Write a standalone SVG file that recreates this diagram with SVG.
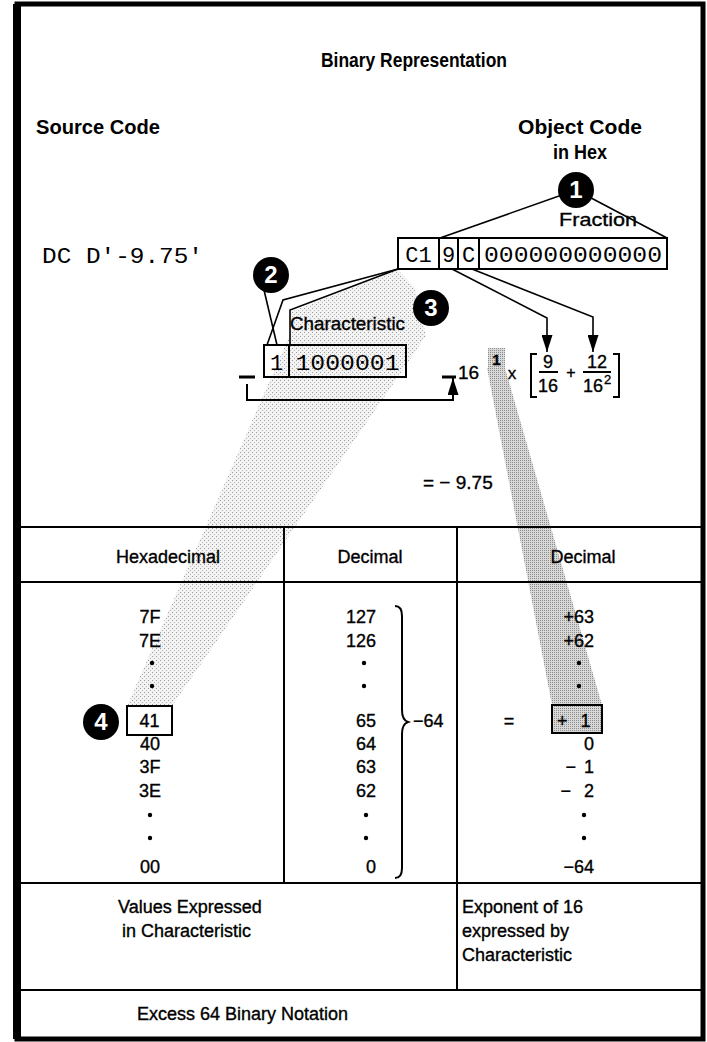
<svg xmlns="http://www.w3.org/2000/svg" width="707" height="1042" viewBox="0 0 707 1042">
<defs>
<pattern id="stip1" width="4" height="4" patternUnits="userSpaceOnUse">
<rect width="4" height="4" fill="#f3f3f3"/>
<rect x="0" y="0" width="1" height="1" fill="#9a9a9a"/>
<rect x="2" y="2" width="1" height="1" fill="#b4b4b4"/>
</pattern>
<pattern id="stip2" width="2" height="2" patternUnits="userSpaceOnUse">
<rect width="2" height="2" fill="#d8d8d8"/>
<rect width="1" height="1" fill="#8c8c8c"/>
</pattern>
<marker id="ah" viewBox="0 0 17 11" refX="17" refY="5.5" markerWidth="17" markerHeight="11" orient="auto" markerUnits="userSpaceOnUse">
<path d="M0,0 L17,5.5 L0,11 Z" fill="#000"/>
</marker>
<style>
.t{font-family:"Liberation Sans",Arial,sans-serif;fill:#000;font-size:18px;stroke:#000;stroke-width:0.35px}
.h{font-family:"Liberation Sans",Arial,sans-serif;fill:#000;font-size:20px;font-weight:bold}
.b{font-weight:bold}
.m{font-family:"Liberation Mono","Courier New",monospace;fill:#000;font-size:22px}
.ln{stroke:#000;fill:none;stroke-width:1.6}
.bx{stroke:#000;fill:none;stroke-width:2}
.tl{stroke:#000;fill:none;stroke-width:2}
.dot{fill:#000}
.cn circle{fill:#000}
.cn text{fill:#fff;font-family:"Liberation Sans",Arial,sans-serif;font-weight:bold;font-size:24px;text-anchor:middle}
.mid{text-anchor:middle}
.end{text-anchor:end}
</style>
</defs>
<rect width="707" height="1042" fill="#fff"/>

<g id="bands">
<polygon points="290,312 398,270 415,288 426,336 172,706 127,706 292,330" fill="url(#stip1)"/>
<polygon points="487,368 505,368 602,705 552,705" fill="url(#stip2)"/>
</g>

<g id="frame">
<rect x="17" y="4" width="686" height="1035" fill="none" stroke="#000" stroke-width="5"/>
<line x1="17" y1="4" x2="17" y2="1039" stroke="#000" stroke-width="8"/>
</g>

<g id="headings">
<text class="h mid" x="414" y="67" textLength="186" lengthAdjust="spacingAndGlyphs">Binary Representation</text>
<text class="h" x="36" y="134" textLength="124" lengthAdjust="spacingAndGlyphs">Source Code</text>
<text class="h" x="518" y="134" textLength="124" lengthAdjust="spacingAndGlyphs">Object Code</text>
<text class="h mid" x="580" y="159" textLength="54" lengthAdjust="spacingAndGlyphs">in Hex</text>
</g>

<g id="source">
<text class="m" x="42" y="263" textLength="161" lengthAdjust="spacingAndGlyphs">DC D'-9.75'</text>
</g>

<g id="connectors">
<line class="ln" x1="576" y1="190" x2="440" y2="238"/>
<line class="ln" x1="576" y1="190" x2="667" y2="238"/>
<polyline class="ln" points="398,269 283,300 267,345"/>
<polyline class="ln" points="398,269 290,310 290,345"/>
<line class="ln" x1="264" y1="290" x2="277" y2="345"/>
<polyline class="ln" points="452,269 547,318 547,352" marker-end="url(#ah)"/>
<polyline class="ln" points="472,269 593,317 593,352" marker-end="url(#ah)"/>
<polyline class="tl" points="247,384 247,400 453,400 453,378" marker-end="url(#ah)"/>
</g>

<g id="hexbox">
<rect class="bx" x="398" y="238" width="269" height="31"/>
<line class="bx" x1="439" y1="238" x2="439" y2="269"/>
<line class="bx" x1="458" y1="238" x2="458" y2="269"/>
<line class="bx" x1="479" y1="238" x2="479" y2="269"/>
<text class="m mid" x="418.5" y="262">C1</text>
<text class="m mid" x="448.5" y="262">9</text>
<text class="m mid" x="468.5" y="262">C</text>
<text class="m mid" x="573" y="262" textLength="178" lengthAdjust="spacingAndGlyphs">000000000000</text>
<text class="t mid" x="598" y="226" style="font-size:19px" textLength="78" lengthAdjust="spacingAndGlyphs">Fraction</text>
</g>

<g id="charbox">
<text class="t" x="290" y="330" style="font-size:19px" textLength="115" lengthAdjust="spacingAndGlyphs">Characteristic</text>
<rect class="bx" x="264" y="345" width="142" height="32"/>
<line class="bx" x1="289" y1="345" x2="289" y2="377"/>
<text class="m mid" x="276.5" y="370">1</text>
<text class="m mid" x="347.5" y="370" textLength="104" lengthAdjust="spacingAndGlyphs">1000001</text>
<line x1="239" y1="377" x2="255" y2="377" stroke="#000" stroke-width="3"/>
</g>

<g id="formula">
<line x1="442" y1="377" x2="456" y2="377" stroke="#000" stroke-width="3"/>
<text class="t" x="458" y="379" style="font-size:19px">16</text>
<rect x="488" y="348" width="17" height="21" fill="url(#stip2)"/>
<text class="t b mid" x="496.5" y="365" style="font-size:15px">1</text>
<text class="t mid" x="512" y="379" style="font-size:17px">x</text>
<path class="tl" d="M537,354 H531 V397 H537"/>
<path class="tl" d="M613,354 H619 V397 H613"/>
<text class="t mid" x="548" y="368">9</text>
<line class="tl" x1="539" y1="372" x2="558" y2="372"/>
<text class="t mid" x="548" y="392">16</text>
<text class="t mid" x="571" y="378" style="font-size:16px">+</text>
<text class="t mid" x="597" y="368">12</text>
<line class="tl" x1="583" y1="372" x2="611" y2="372"/>
<text class="t mid" x="593" y="392">16</text>
<text class="t" x="604" y="384" style="font-size:13px">2</text>
<text class="t" x="423" y="489" style="font-size:19px">= − 9.75</text>
</g>

<g id="markers" class="cn">
<g id="m1"><circle cx="576" cy="190" r="18"/><text x="576" y="198">1</text></g>
<g id="m2"><circle cx="271" cy="275" r="18"/><text x="271" y="283">2</text></g>
<g id="m3"><circle cx="431" cy="308" r="18"/><text x="431" y="316">3</text></g>
<g id="m4"><circle cx="101" cy="722" r="18"/><text x="101" y="730">4</text></g>
</g>

<g id="table">
<path class="tl" d="M17,527 H703 M17,582 H703 M17,883 H703 M17,990 H703 M284,527 V883 M457,527 V990"/>
<text class="t mid" x="168" y="563">Hexadecimal</text>
<text class="t mid" x="370" y="563">Decimal</text>
<text class="t mid" x="583" y="563">Decimal</text>
</g>

<g id="col-hex">
<text class="t mid" x="150" y="623">7F</text>
<text class="t mid" x="150" y="647">7E</text>
<circle class="dot" cx="152" cy="663" r="2.2"/>
<circle class="dot" cx="152" cy="686" r="2.2"/>
<rect class="bx" x="127" y="706" width="45" height="29"/>
<text class="t mid" x="149.5" y="727">41</text>
<text class="t mid" x="150" y="750">40</text>
<text class="t mid" x="150" y="773">3F</text>
<text class="t mid" x="150" y="797">3E</text>
<circle class="dot" cx="150" cy="815" r="2.2"/>
<circle class="dot" cx="150" cy="838" r="2.2"/>
<text class="t mid" x="150" y="873">00</text>
</g>

<g id="col-dec">
<text class="t end" x="376" y="623">127</text>
<text class="t end" x="376" y="647">126</text>
<circle class="dot" cx="364" cy="663" r="2.2"/>
<circle class="dot" cx="364" cy="686" r="2.2"/>
<text class="t end" x="376" y="727">65</text>
<text class="t end" x="376" y="750">64</text>
<text class="t end" x="376" y="773">63</text>
<text class="t end" x="376" y="797">62</text>
<circle class="dot" cx="366" cy="815" r="2.2"/>
<circle class="dot" cx="366" cy="838" r="2.2"/>
<text class="t end" x="376" y="873">0</text>
<path class="tl" d="M395,606 Q402,606 402,616 L402,710 Q402,720 408,722 Q402,724 402,734 L402,868 Q402,878 395,878"/>
<text class="t" x="413" y="727">−64</text>
</g>

<g id="col-exp">
<text class="t end" x="594" y="623">+63</text>
<text class="t end" x="594" y="647">+62</text>
<circle class="dot" cx="579" cy="663" r="2.2"/>
<circle class="dot" cx="579" cy="686" r="2.2"/>
<text class="t mid" x="509" y="727">=</text>
<rect x="552" y="705" width="50" height="28" fill="url(#stip2)" stroke="#000" stroke-width="2"/>
<text class="t" x="557" y="727" word-spacing="8">+ 1</text>
<text class="t end" x="594" y="750">0</text>
<text class="t end" x="594" y="773" word-spacing="3">− 1</text>
<text class="t end" x="594" y="797" word-spacing="8">− 2</text>
<circle class="dot" cx="584" cy="815" r="2.2"/>
<circle class="dot" cx="584" cy="838" r="2.2"/>
<text class="t end" x="594" y="873">−64</text>
</g>

<g id="notes">
<text class="t" x="118" y="913">Values Expressed</text>
<text class="t" x="122" y="937">in Characteristic</text>
<text class="t" x="462" y="913">Exponent of 16</text>
<text class="t" x="462" y="937">expressed by</text>
<text class="t" x="462" y="961">Characteristic</text>
<text class="t" x="137" y="1020">Excess 64 Binary Notation</text>
</g>
</svg>
